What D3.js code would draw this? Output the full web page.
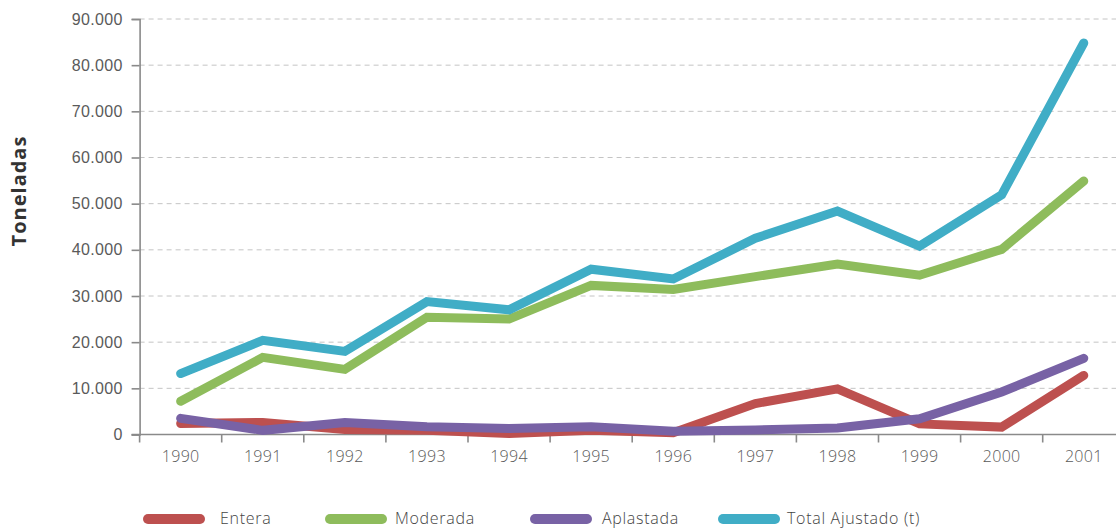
<!DOCTYPE html>
<html>
<head>
<meta charset="utf-8">
<script src="https://cdn.jsdelivr.net/npm/d3@7"></script>
<style>
  body { margin: 0; background: #fff; }
  svg { display: block; font-family: "Open Sans", "Noto Sans", sans-serif; }
  .tick text { fill: #5a5a5a; font-size: 16px; font-weight: 300; letter-spacing: 0.3px; }
</style>
</head>
<body>
<div id="chart"></div>
<script>
// data
var years = ["1990","1991","1992","1993","1994","1995","1996","1997","1998","1999","2000","2001"];
var entera =    [2400, 2600, 1100,  900,  200,  900,  400, 6700,  9900,  2300,  1600, 12800];
var moderada =  [7200,16700,14100,25400,25000,32300,31400,34200,36900,34500,40100,54900];
var aplastada = [3500,  900, 2600, 1700, 1300, 1700,  700, 1000,  1400,  3400,  9200, 16500];
var total =     [13200,20400,18000,28800,27000,35800,33700,42500,48400,40800,51900,84800];
var seriesNames = ["Entera", "Moderada", "Aplastada", "Total Ajustado (t)"];
var seriesColors = ["#bd504f", "#8ebc5c", "#7862a5", "#40adc6"];
var yTicks = [0,10000,20000,30000,40000,50000,60000,70000,80000,90000];

var w = 1116, h = 529;
var mLeft = 139.6, mTop = 19, mBottom = 434.5;

var svg = d3.select("#chart").append("svg")
  .attr("width", w).attr("height", h);

var x = d3.scaleBand().domain(years).range([mLeft, mLeft + 82.1 * 12]);
var y = d3.scaleLinear().domain([0, 90000]).range([mBottom, mTop]);

var fmt = function(v) { return v === 0 ? "0" : d3.format(",")(v).replace(/,/g, "."); };

// grid
svg.append("g").selectAll("line")
  .data(yTicks.slice(1))
  .enter().append("line")
  .attr("x1", mLeft).attr("x2", w)
  .attr("y1", function(d) { return y(d); })
  .attr("y2", function(d) { return y(d); })
  .attr("stroke", "#c4c4c4").attr("stroke-width", 1)
  .attr("stroke-dasharray", "5,4");

// y axis
var yAxis = svg.append("g")
  .attr("transform", "translate(" + mLeft + ",0)")
  .call(d3.axisLeft(y).tickValues(yTicks).tickFormat(fmt).tickSize(8).tickPadding(9));
yAxis.select(".domain").attr("stroke", "#8a8a8a").attr("stroke-width", 1.6);
yAxis.selectAll(".tick line").attr("stroke", "#8a8a8a").attr("stroke-width", 1.6);

// x axis: ticks between years, labels at centers
var xAxis = svg.append("g").attr("transform", "translate(0," + mBottom + ")");
xAxis.append("line").attr("x1", mLeft - 8).attr("x2", w)
  .attr("stroke", "#8a8a8a").attr("stroke-width", 1.6);
xAxis.selectAll("line.tk")
  .data(years.concat(["end"]))
  .enter().append("line").attr("class", "tk")
  .attr("x1", function(d, i) { return mLeft + x.step() * i; })
  .attr("x2", function(d, i) { return mLeft + x.step() * i; })
  .attr("y1", 0).attr("y2", 8)
  .attr("stroke", "#8a8a8a").attr("stroke-width", 1.6);
xAxis.selectAll("text")
  .data(years)
  .enter().append("text")
  .attr("x", function(d) { return Math.min(x(d) + x.bandwidth() / 2, w - 22); })
  .attr("y", 27)
  .attr("text-anchor", "middle")
  .attr("fill", "#5a5a5a").attr("font-size", "16px").attr("font-weight", 300)
  .attr("letter-spacing", "0.3px")
  .text(function(d) { return d; });

// y title
svg.append("text")
  .attr("transform", "translate(26,191) rotate(-90)")
  .attr("text-anchor", "middle")
  .attr("font-size", "20px").attr("font-weight", "bold").attr("fill", "#333")
  .attr("letter-spacing", "1px")
  .text("Toneladas");

// lines
var allSeries = [entera, moderada, aplastada, total];
var line = d3.line()
  .x(function(d, i) { return x(years[i]) + x.bandwidth() / 2; })
  .y(function(d) { return y(d); });

svg.append("g").selectAll("path")
  .data(allSeries)
  .enter().append("path")
  .attr("d", line)
  .attr("fill", "none")
  .attr("stroke", function(d, i) { return seriesColors[i]; })
  .attr("stroke-width", 9)
  .attr("stroke-linecap", "round")
  .attr("stroke-linejoin", "miter");

// legend
var swatchX = [148, 330, 535, 723];
var labelX = [220, 395, 602, 787];
var lg = svg.append("g").selectAll("g")
  .data(seriesNames)
  .enter().append("g")
  .attr("transform", "translate(0,518)");
lg.append("line")
  .attr("x1", function(d, i) { return swatchX[i]; })
  .attr("x2", function(d, i) { return swatchX[i] + 52; })
  .attr("y1", 1).attr("y2", 1)
  .attr("stroke", function(d, i) { return seriesColors[i]; })
  .attr("stroke-width", 10).attr("stroke-linecap", "round");
lg.append("text")
  .attr("x", function(d, i) { return labelX[i]; }).attr("dy", "0.35em")
  .attr("font-size", "16px").attr("fill", "#444").attr("font-weight", 300)
  .attr("letter-spacing", "0.7px")
  .text(function(d) { return d; });
</script>
</body>
</html>
